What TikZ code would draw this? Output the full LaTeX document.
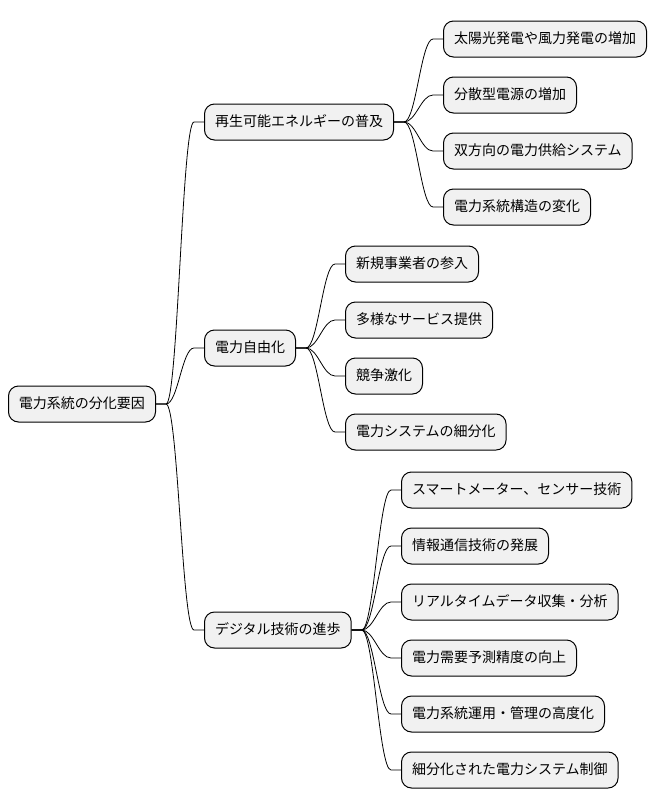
\documentclass[tikz,border=0pt]{standalone}
\usepackage{fontspec}
\newfontfamily\cjk{Noto Sans CJK JP}
\usepackage{tikz}
\usetikzlibrary{positioning}
\usetikzlibrary{calc}

\definecolor{boxfill}{HTML}{F1F1F1}

\begin{document}
\begin{tikzpicture}[
    x=1pt, y=-1pt,
    topic/.style={rectangle, draw, fill=boxfill, line width=1pt,
      rounded corners=10pt, anchor=west, minimum height=36pt,
      inner xsep=10.5pt, text height=11.5pt, text depth=2.5pt,
      font=\cjk\fontsize{14}{16}\selectfont},
    branch/.style={line width=0.8pt,
      to path={-- ++(10pt,0) .. controls +(12pt,0) and +(-12pt,0)
        .. ([xshift=-10pt]\tikztotarget) -- (\tikztotarget)}},
  ]

  \useasboundingbox (0,0) rectangle (656,809);

  % Root
  \node[topic] (root) at (8,404) {電力系統の分化要因};

  % First level
  \node[topic] (renew)   at (204,122) {再生可能エネルギーの普及};
  \node[topic] (liberal) at (204,348) {電力自由化};
  \node[topic] (digital) at (204,630) {デジタル技術の進歩};

  % Renewables
  \node[topic] (renew-1) at (443, 39) {太陽光発電や風力発電の増加};
  \node[topic] (renew-2) at (443, 95) {分散型電源の増加};
  \node[topic] (renew-3) at (443,151) {双方向の電力供給システム};
  \node[topic] (renew-4) at (443,207) {電力系統構造の変化};

  % Liberalisation
  \node[topic] (liberal-1) at (345,264) {新規事業者の参入};
  \node[topic] (liberal-2) at (345,320) {多様なサービス提供};
  \node[topic] (liberal-3) at (345,376) {競争激化};
  \node[topic] (liberal-4) at (345,432) {電力システムの細分化};

  % Digital technology
  \node[topic] (digital-1) at (401,490) {スマートメーター、センサー技術};
  \node[topic] (digital-2) at (401,546) {情報通信技術の発展};
  \node[topic] (digital-3) at (401,602) {リアルタイムデータ収集・分析};
  \node[topic] (digital-4) at (401,658) {電力需要予測精度の向上};
  \node[topic] (digital-5) at (401,714) {電力系統運用・管理の高度化};
  \node[topic] (digital-6) at (401,770) {細分化された電力システム制御};

  % Branches from the root
  \draw[branch] (root.east) to (renew.west);
  \draw[branch] (root.east) to (liberal.west);
  \draw[branch] (root.east) to (digital.west);

  % Branches of the first level
  \draw[branch] (renew.east) to (renew-1.west);
  \draw[branch] (renew.east) to (renew-2.west);
  \draw[branch] (renew.east) to (renew-3.west);
  \draw[branch] (renew.east) to (renew-4.west);

  \draw[branch] (liberal.east) to (liberal-1.west);
  \draw[branch] (liberal.east) to (liberal-2.west);
  \draw[branch] (liberal.east) to (liberal-3.west);
  \draw[branch] (liberal.east) to (liberal-4.west);

  \draw[branch] (digital.east) to (digital-1.west);
  \draw[branch] (digital.east) to (digital-2.west);
  \draw[branch] (digital.east) to (digital-3.west);
  \draw[branch] (digital.east) to (digital-4.west);
  \draw[branch] (digital.east) to (digital-5.west);
  \draw[branch] (digital.east) to (digital-6.west);

\end{tikzpicture}
\end{document}
